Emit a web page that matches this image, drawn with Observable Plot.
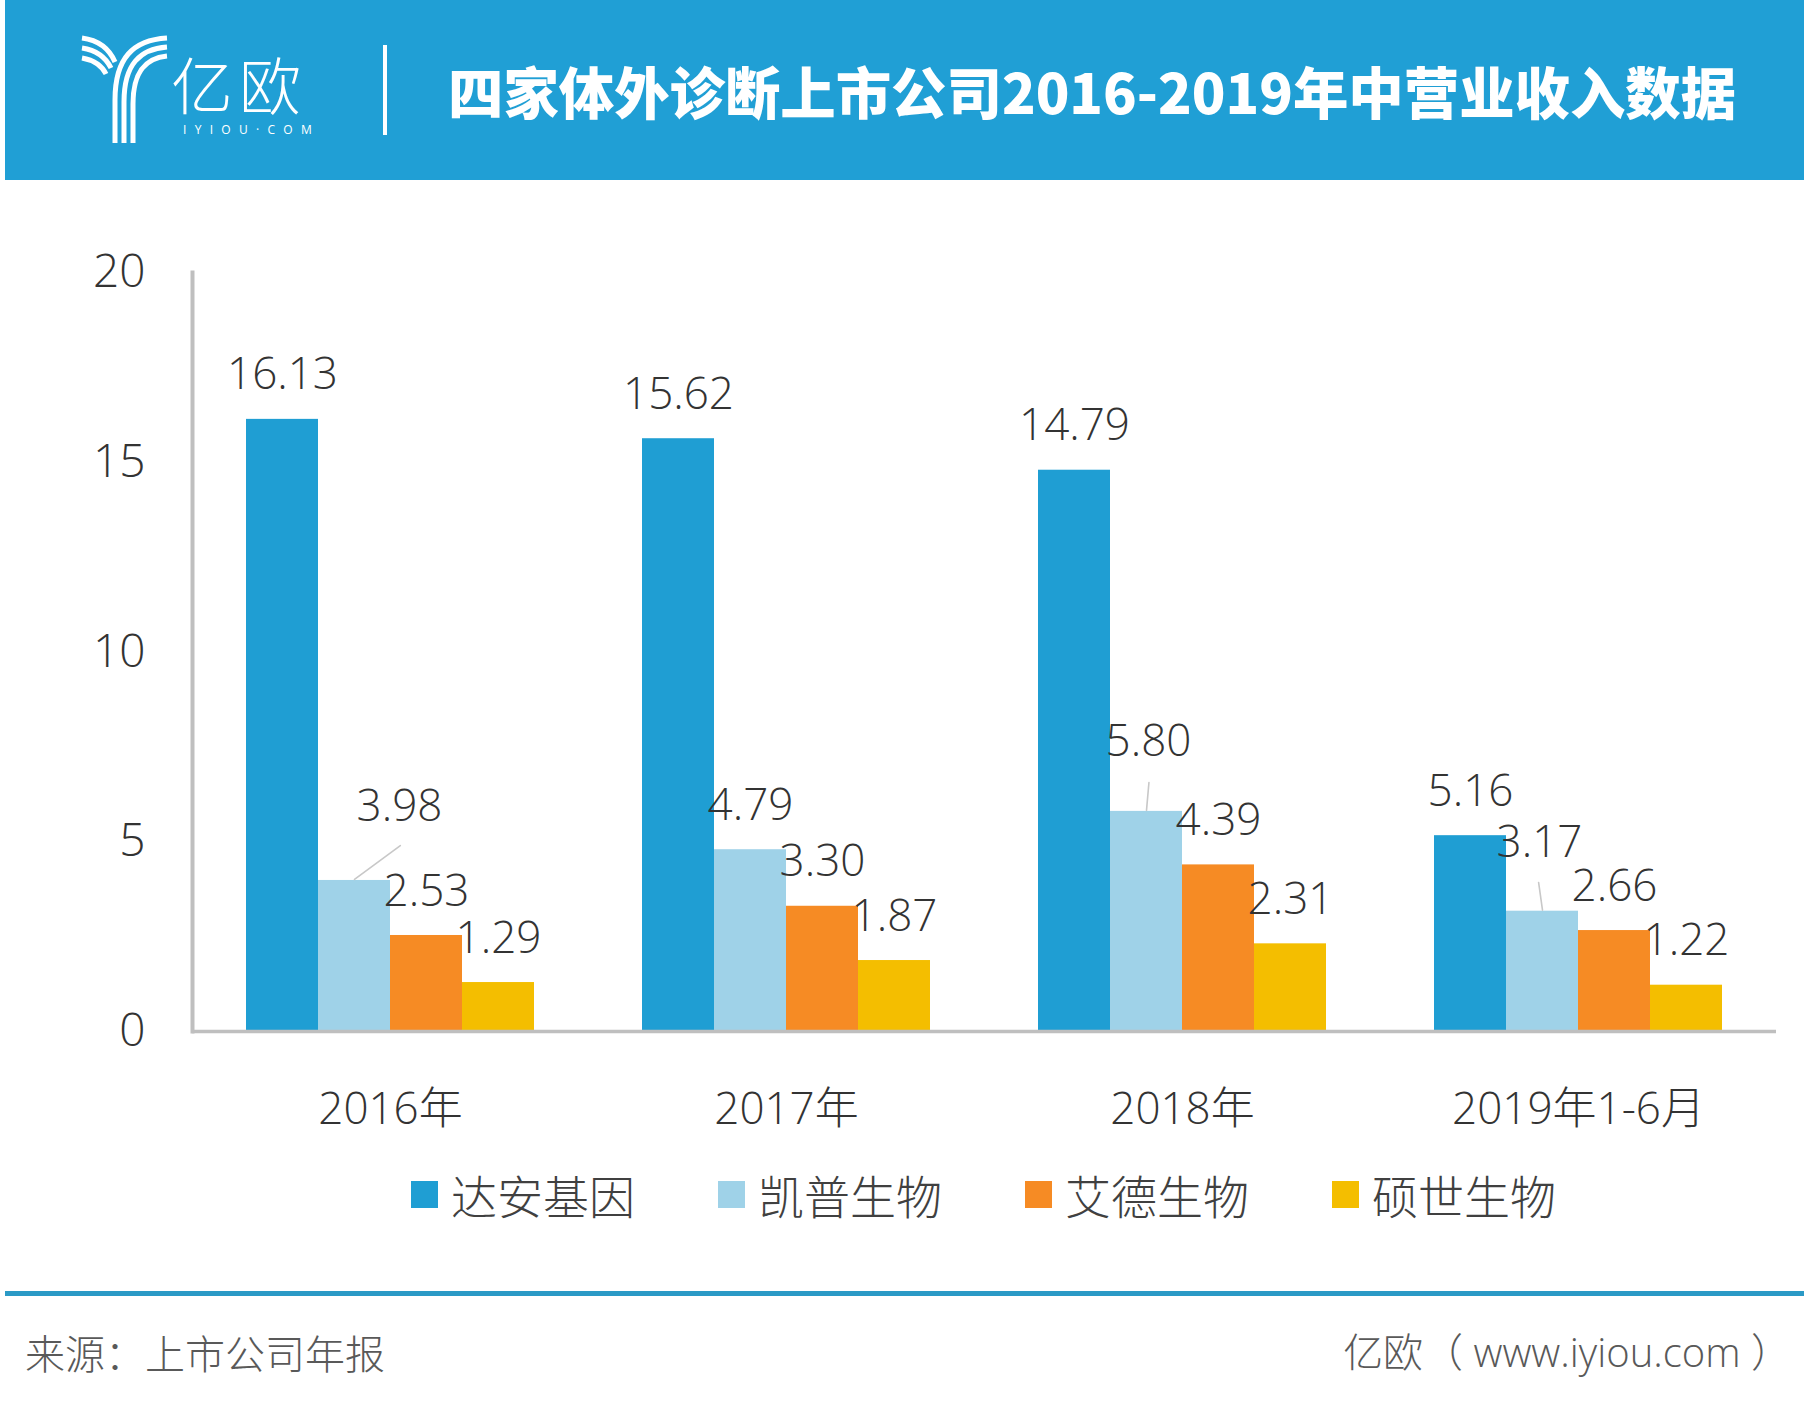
<!DOCTYPE html>
<html>
<head>
<meta charset="utf-8">
<script src="https://cdn.jsdelivr.net/npm/d3@7"></script>
<script src="https://cdn.jsdelivr.net/npm/@observablehq/plot@0.6"></script>
<style>
  body { margin: 0; background: #fff; }
  #page { position: relative; width: 1806px; height: 1410px; overflow: hidden; background: #fff;
          font-family: 'Open Sans', 'Noto Sans CJK SC', sans-serif; }
  #header { position: absolute; left: 5px; top: 0; width: 1799px; height: 180px; background: #209fd5; }
  #logo { position: absolute; left: 70px; top: 30px; }
  #brand { position: absolute; left: 166px; top: 55px; color: #fff; font-size: 62px; font-weight: 300;
           letter-spacing: 6px; line-height: 56px; font-family: 'Noto Sans CJK SC', sans-serif; }
  #brand-en { position: absolute; left: 178px; top: 123px; color: #fff; font-size: 12px; letter-spacing: 8.3px;
              line-height: 14px; font-family: 'Open Sans', sans-serif; }
  #divider { position: absolute; left: 378px; top: 45px; width: 4px; height: 90px; background: #fff; }
  #title { position: absolute; left: 443px; top: 0; line-height: 180px; color: #fff; font-size: 55.4px;
           font-weight: 900; font-family: 'Noto Sans CJK SC', sans-serif; white-space: nowrap; }
  #chart { position: absolute; left: 0; top: 180px; }
  #legend { position: absolute; left: 411px; top: 1166px; display: flex; }
  .item { display: flex; align-items: center; width: 307px; height: 56px; }
  .sw { width: 27px; height: 27px; margin-right: 13px; flex: none; }
  .lab { font-size: 46px; color: #404040; font-weight: 300; font-family: 'Noto Sans CJK SC', sans-serif; white-space: nowrap; }
  #rule { position: absolute; left: 5px; top: 1291px; width: 1799px; height: 5px; background: #2b9ac6; }
  #source { position: absolute; left: 25px; top: 1328px; font-size: 40px; line-height: 48px; color: #595959;
            font-weight: 300; font-family: 'Noto Sans CJK SC', sans-serif; }
  #site { position: absolute; right: 15px; top: 1328px; font-size: 40px; line-height: 48px; color: #595959;
          font-weight: 300; font-family: 'Open Sans', 'Noto Sans CJK SC', sans-serif; white-space: pre; }
</style>
</head>
<body>
<div id="page">
  <div id="header">
    <svg id="logo" width="100" height="120" viewBox="70 30 100 120">
      <g fill="none" stroke="#fff" stroke-width="5" stroke-linecap="butt">
        <path d="M162,38 C128,40 110,58 110,100 L110,143"/>
        <path d="M162,47 C135,49 119,64 119,102 L119,143"/>
        <path d="M162,56 C142,58 128,70 128,104 L128,143"/>
        <path d="M77,38 C92,40 104,48 110,62"/>
        <path d="M77,48 C90,50 100,56 106,68"/>
        <path d="M77,58 C88,60 96,64 101,74"/>
      </g>
    </svg>
    <div id="brand">亿欧</div>
    <div id="brand-en">IYIOU·COM</div>
    <div id="divider"></div>
    <div id="title">四家体外诊断上市公司2016-2019年中营业收入数据</div>
  </div>
  <div id="chart"></div>
  <div id="legend"></div>
  <div id="rule"></div>
  <div id="source">来源：上市公司年报</div>
  <div id="site">亿欧（ www.iyiou.com ）</div>
</div>
<script>
// ---- data ----
const years = ["2016年", "2017年", "2018年", "2019年1-6月"];
const companies = ["达安基因", "凯普生物", "艾德生物", "硕世生物"];
const daan = [16.13, 15.62, 14.79, 5.16];
const kaipu = [3.98, 4.79, 5.80, 3.17];
const aide = [2.53, 3.30, 4.39, 2.66];
const shuoshi = [1.29, 1.87, 2.31, 1.22];
const yTicks = [0, 5, 10, 15, 20];
const colors = ["#1f9ed3", "#9fd2e8", "#f68b24", "#f4be00"];

const series = [daan, kaipu, aide, shuoshi];
const rows = years.flatMap((y, i) => companies.map((c, j) => ({year: y, company: c, value: series[j][i]})));

// label adjustments (style only): moved labels with leader lines
const moved = [
  {year: years[0], company: companies[1], dx: 45, dy: -74, len: 57, rot: 53.5},
  {year: years[2], company: companies[1], dx: 2, dy: -69, len: 28, rot: 5},
  {year: years[3], company: companies[1], dx: -3, dy: -68, len: 28, rot: -8}
];
const isMoved = (d) => moved.some(m => m.year === d.year && m.company === d.company);
const fmt = d3.format(".2f");
const labelSize = 44;

const marks = [
  Plot.barY(rows, {fx: "year", x: "company", y: "value", fill: "company"}),
  Plot.ruleY([0], {stroke: "#bfbfbf", strokeWidth: 3.5}),
  Plot.frame({anchor: "left", facetAnchor: "left", stroke: "#bfbfbf", strokeWidth: 4}),
  Plot.text(rows.filter(d => !isMoved(d)), {
    fx: "year", x: "company", y: "value", text: d => fmt(d.value),
    dy: -44, fontSize: labelSize, fill: "#333"
  }),
  ...moved.flatMap(m => {
    const data = rows.filter(d => d.year === m.year && d.company === m.company);
    return [
      Plot.text(data, {fx: "year", x: "company", y: "value", text: d => fmt(d.value),
        dx: m.dx, dy: m.dy, fontSize: labelSize, fill: "#333"}),
      Plot.vector(data, {fx: "year", x: "company", y: "value", length: m.len, rotate: m.rot,
        anchor: "start", r: 0, dy: -1, stroke: "#c8c8c8", strokeWidth: 1.6})
    ];
  }),
  Plot.axisY({ticks: yTicks, tickSize: 0, tickPadding: 47, fontSize: 46, fill: "#333", label: null}),
  Plot.axisFx({anchor: "bottom", tickSize: 0, tickPadding: 61, fontSize: 44, fill: "#333", label: null})
];

const chart = Plot.plot({
  width: 1806,
  height: 971,
  marginLeft: 190,
  marginRight: 29,
  marginTop: 92,
  marginBottom: 120,
  style: {fontFamily: "'Open Sans','Noto Sans CJK SC',sans-serif", fontWeight: 300, background: "transparent", color: "#333"},
  fx: {domain: years, padding: 0, label: null},
  x: {domain: companies, paddingInner: 0, paddingOuter: 0.737, axis: null},
  y: {domain: [0, 20], label: null},
  color: {domain: companies, range: colors},
  marks
});
document.getElementById("chart").appendChild(chart);

// legend
const legend = document.getElementById("legend");
companies.forEach((c, i) => {
  const item = document.createElement("div");
  item.className = "item";
  const sw = document.createElement("div");
  sw.className = "sw";
  sw.style.background = colors[i];
  const lab = document.createElement("span");
  lab.className = "lab";
  lab.textContent = c;
  item.appendChild(sw);
  item.appendChild(lab);
  legend.appendChild(item);
});
</script>
</body>
</html>
